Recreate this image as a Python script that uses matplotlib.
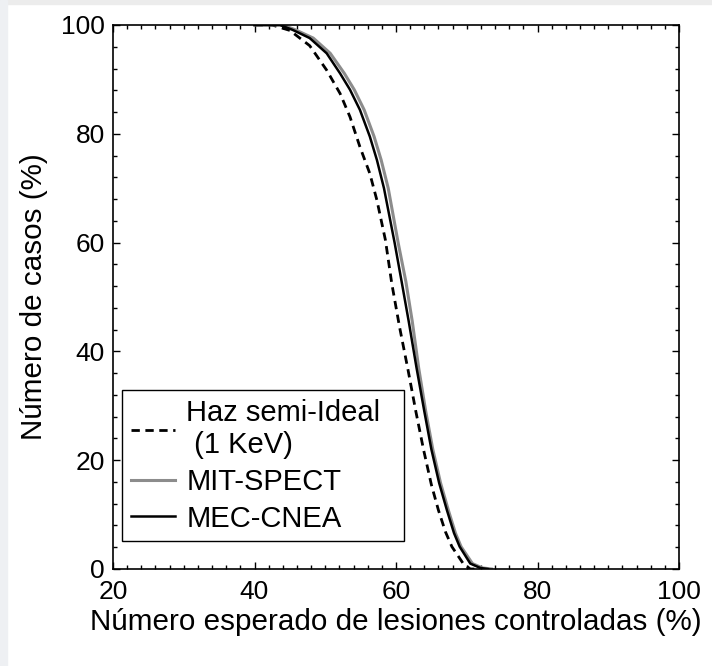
import matplotlib
matplotlib.use('Agg')
import matplotlib.pyplot as plt
from matplotlib.patches import Rectangle

plt.rcParams['font.family'] = ['Liberation Sans', 'DejaVu Sans']

# curvas (x = % lesiones controladas, y = % casos)
semi_x = [40, 42.5, 45.0, 47.8, 50.2, 52.1, 53.5, 54.9, 56.3, 57.3, 58.5, 59.4,
          60.5, 61.7, 62.8, 63.9, 65.0, 66.0, 67.0, 67.9, 69.5, 70.5, 71.5]
semi_y = [100, 100, 99.0, 96.2, 91.7, 87.4, 83.1, 77.6, 72.7, 67.8, 60.5, 52.5,
          44.5, 36.6, 29.0, 21.9, 15.5, 10.8, 6.8, 4.1, 1.0, 0.0, 0]

mit_x = [40, 44.0, 45.8, 48.3, 50.7, 52.7, 54.1, 55.5, 56.9, 57.9, 58.9, 60.3,
         61.4, 62.3, 63.2, 64.2, 65.2, 66.3, 67.4, 68.4, 69.2, 70.8, 72.2, 73.5]
mit_y = [100, 100, 99.1, 97.6, 94.8, 91.1, 88.1, 84.4, 79.5, 75.2, 70.0, 60.0,
         52.8, 45.5, 37.0, 29.0, 22.0, 15.8, 10.8, 6.6, 4.1, 1.0, 0.2, 0]

mec_x = [40, 43.6, 45.4, 47.8, 50.2, 52.1, 53.5, 54.9, 56.3, 57.3, 58.3, 59.8,
         60.8, 61.8, 62.9, 64.0, 65.0, 66.1, 67.2, 68.2, 69.0, 70.5, 71.9, 73.0]
mec_y = [100, 100, 99.1, 97.6, 94.8, 91.1, 88.1, 84.4, 79.5, 75.2, 70.0, 60.0,
         52.8, 45.5, 37.0, 29.0, 22.0, 15.8, 10.8, 6.6, 4.1, 1.0, 0.2, 0]

fig = plt.figure(figsize=(7.12, 6.66), dpi=100)
# marco gris claro del recorte original
fig.patches.append(Rectangle((0, 1 - 4/666), 1, 4/666, transform=fig.transFigure,
                             color='#ececec', zorder=0))
fig.patches.append(Rectangle((0, 0), 7/712, 1, transform=fig.transFigure,
                             color='#eef0f3', zorder=0))

ax = fig.add_axes([113/712, (666-569)/666, 566/712, 544/666])

ax.plot(semi_x, semi_y, color='black', lw=2, ls=(0, (3, 2)), label='Haz semi-Ideal\n (1 KeV)')
ax.plot(mit_x, mit_y, color='#8c8c8c', lw=2.2, label='MIT-SPECT')
ax.plot(mec_x, mec_y, color='black', lw=1.8, label='MEC-CNEA')

ax.set_xlim(20, 100)
ax.set_ylim(0, 100)
ax.set_xticks([20, 40, 60, 80, 100])
ax.set_yticks([0, 20, 40, 60, 80, 100])
ax.set_xticks(range(20, 101, 2), minor=True)
ax.set_yticks(range(0, 101, 4), minor=True)
ax.tick_params(which='both', direction='in', top=True, right=True, width=1)
ax.tick_params(which='major', length=5, labelsize=19)
ax.tick_params(which='minor', length=3)
ax.tick_params(axis='x', pad=8)
ax.tick_params(axis='y', pad=6)
for s in ax.spines.values():
    s.set_linewidth(1.2)

ax.set_xlabel('Número esperado de lesiones controladas (%)', fontsize=21.3)
ax.set_ylabel('Número de casos (%)', fontsize=21.3)
ax.xaxis.set_label_coords(0.5, -0.072)
ax.yaxis.set_label_coords(-0.115, 0.5)

leg = ax.legend(loc='lower left', bbox_to_anchor=(0.016, 0.051, 0.498, 0.28),
                mode='expand', borderaxespad=0,
                fontsize=21, fancybox=False, framealpha=1, edgecolor='black',
                handlelength=1.5, handletextpad=0.4, borderpad=0.3,
                labelspacing=0.3)
leg.get_frame().set_linewidth(1)

fig.savefig('out.png', dpi=100)
